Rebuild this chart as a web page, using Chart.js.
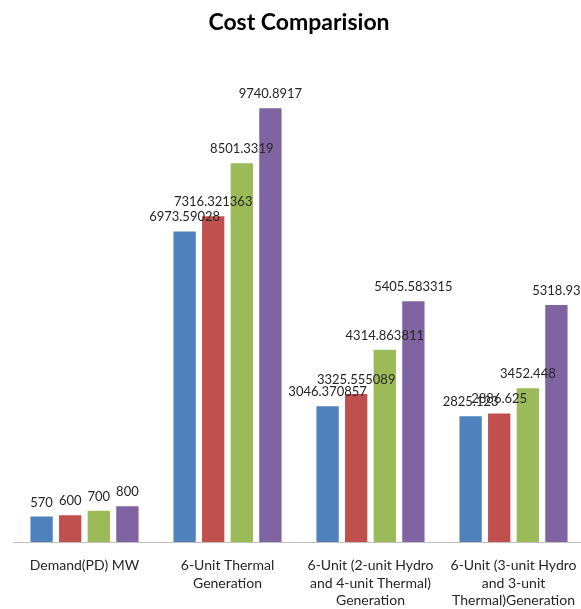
<!DOCTYPE html>
<html lang="en">
  <head>
    <meta charset="utf-8">
    <title>Cost Comparision</title>
    <script src="https://cdn.jsdelivr.net/npm/chart.js@4/dist/chart.umd.min.js"></script>
    <style>
      body { margin: 0; overflow: hidden; background: #fff; }
      #chart { width: 600px; height: 609px; }
    </style>
  </head>
  <body>
    <div id="chart">
      <canvas id="chartCanvas"></canvas>
    </div>
    <script>
      const categories = [
        'Demand(PD) MW',
        ['6-Unit Thermal', 'Generation'],
        ['6-Unit (2-unit Hydro', 'and 4-unit Thermal)', 'Generation'],
        ['6-Unit (3-unit Hydro', 'and 3-unit', 'Thermal)Generation']
      ];
      const series1 = [570, 6973.59028, 3046.370857, 2825.123];
      const series2 = [600, 7316.321363, 3325.555089, 2886.625];
      const series3 = [700, 8501.3319, 4314.863811, 3452.448];
      const series4 = [800, 9740.8917, 5405.583315, 5318.93];

      const colors = ['#4F81BD', '#C0504D', '#9BBB59', '#8064A2'];

      // draws the value above each bar, on top of the bars
      const valueLabels = {
        id: 'valueLabels',
        afterDatasetsDraw(chart) {
          const ctx = chart.ctx;
          ctx.save();
          ctx.font = '13px Lato';
          ctx.fillStyle = '#262626';
          ctx.textAlign = 'center';
          ctx.textBaseline = 'alphabetic';
          chart.data.datasets.forEach((ds, i) => {
            chart.getDatasetMeta(i).data.forEach((bar, j) => {
              ctx.fillText(String(ds.data[j]), bar.x, bar.y - 10);
            });
          });
          ctx.restore();
        }
      };

      const ctx = document.getElementById('chartCanvas');

      var chart = new Chart(ctx, {
        type: 'bar',
        data: {
          labels: categories,
          datasets: [series1, series2, series3, series4].map((d, i) => ({
            label: 'Series' + (i + 1),
            data: d,
            backgroundColor: colors[i],
            categoryPercentage: 0.8,
            barPercentage: 0.78
          }))
        },
        options: {
          responsive: true,
          maintainAspectRatio: false,
          animation: false,
          layout: { padding: { left: 13, right: 15, top: 0, bottom: 0 } },
          plugins: {
            legend: { display: false },
            tooltip: { enabled: false },
            title: {
              display: true,
              text: 'Cost Comparision',
              color: '#000',
              font: { family: 'Lato', size: 23, weight: 'bold', lineHeight: 1.2 },
              padding: { top: 9, bottom: 60 }
            }
          },
          scales: {
            x: {
              grid: { display: false, drawTicks: false },
              border: { display: true, color: '#c0c0c0', width: 1 },
              ticks: {
                color: '#262626',
                font: { family: 'Lato', size: 14, lineHeight: 1.25 },
                padding: 15,
                maxRotation: 0,
                autoSkip: false
              },
              afterFit(scale) { scale.height = 67; }
            },
            y: {
              display: false,
              min: 0,
              max: 10000
            }
          }
        },
        plugins: [valueLabels]
      });
    </script>
  </body>
</html>
